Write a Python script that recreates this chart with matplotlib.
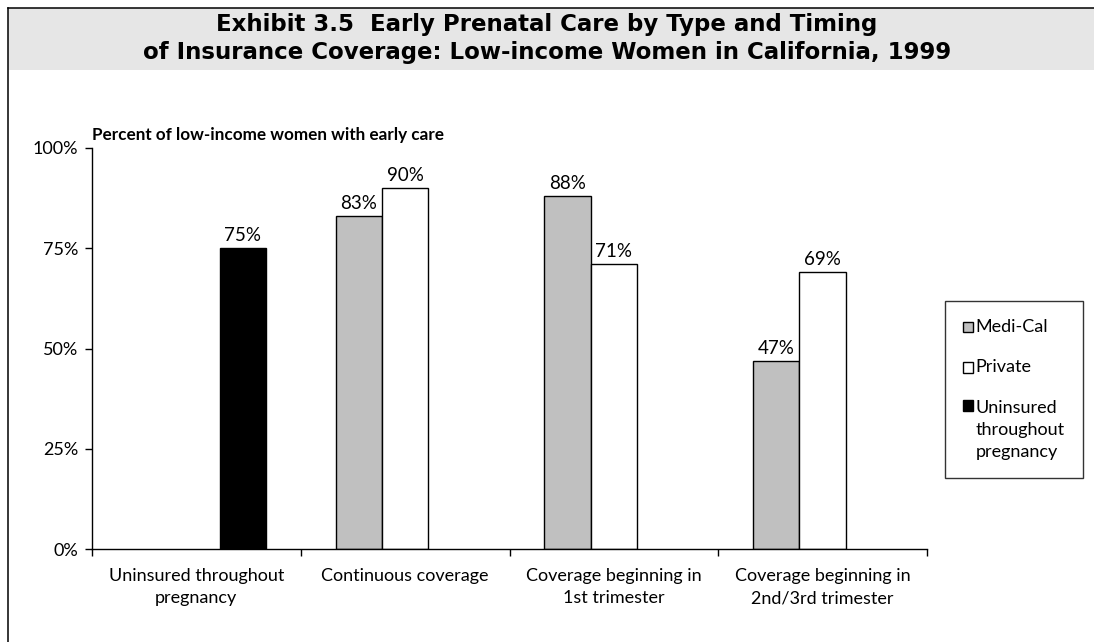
import numpy as np
import matplotlib
matplotlib.use("Agg")
import matplotlib.pyplot as plt
from matplotlib.patches import Rectangle
from matplotlib.lines import Line2D

plt.rcParams['font.family'] = ['Lato', 'DejaVu Sans']

# Percent of low-income women with early prenatal care
categories = ["Uninsured throughout\npregnancy", "Continuous coverage",
              "Coverage beginning in\n1st trimester", "Coverage beginning in\n2nd/3rd trimester"]
medi_cal = [np.nan, 83, 88, 47]
private = [np.nan, 90, 71, 69]
uninsured = [75, np.nan, np.nan, np.nan]
series_names = ["Medi-Cal", "Private", "Uninsured\nthroughout\npregnancy"]
yticks = [0, 25, 50, 75, 100]

fig = plt.figure(figsize=(10.94, 6.42), dpi=100)

# frame and shaded title band
fig.patches.append(Rectangle((8 / 1094, 1 - 70 / 642), 1, 62 / 642, transform=fig.transFigure,
                             facecolor="#e6e6e6", edgecolor="none", zorder=0))
fig.lines.append(Line2D([8 / 1094, 1], [1 - 8 / 642] * 2, transform=fig.transFigure, color="black", lw=1.1))
fig.lines.append(Line2D([8 / 1094] * 2, [0, 1 - 8 / 642], transform=fig.transFigure, color="black", lw=1.1))
title_font = dict(ha="center", va="center", fontsize=16.5, fontweight="bold",
                  family=["Liberation Sans Narrow", "DejaVu Sans"])
fig.text(0.5, 1 - 24 / 642, "Exhibit 3.5  Early Prenatal Care by Type and Timing", **title_font)
fig.text(0.5, 1 - 52 / 642, "of Insurance Coverage: Low-income Women in California, 1999", **title_font)

ax = fig.add_axes([92 / 1094, 1 - 549 / 642, (927 - 92) / 1094, (549 - 148) / 642])

x = np.arange(len(categories))
w = 1 / 4.5
b1 = ax.bar(x - w, medi_cal, w, color="#c0c0c0", edgecolor="black", lw=1.0, label=series_names[0])
b2 = ax.bar(x, private, w, color="white", edgecolor="black", lw=1.0, label=series_names[1])
b3 = ax.bar(x + w, uninsured, w, color="black", edgecolor="black", lw=1.0, label=series_names[2])

for bars, vals in [(b1, medi_cal), (b2, private), (b3, uninsured)]:
    for rect, v in zip(bars, vals):
        if np.isnan(v):
            continue
        ax.text(rect.get_x() + rect.get_width() / 2, v + 1.0, "%d%%" % v,
                ha="center", va="bottom", fontsize=13.5)

ax.set_xlim(-0.5, 3.5)
ax.set_ylim(0, 100)
ax.set_yticks(yticks)
ax.set_yticklabels(["%d%%" % t for t in yticks], fontsize=13)
ax.set_xticks(x)
ax.set_xticklabels(categories, fontsize=13, linespacing=1.45)
ax.set_xticks(np.arange(-0.5, 4, 1), minor=True)
ax.tick_params(axis="x", which="major", length=0, pad=14)
ax.tick_params(axis="x", which="minor", length=5, width=1, direction="out")
ax.tick_params(axis="y", length=5, width=1, direction="out", pad=5)
for s in ["top", "right"]:
    ax.spines[s].set_visible(False)
for s in ["left", "bottom"]:
    ax.spines[s].set_linewidth(1.0)

ax.text(0.0, 1.033, "Percent of low-income women with early care", transform=ax.transAxes,
        ha="left", va="center", fontsize=12.3, fontweight="bold")

leg = ax.legend(loc="upper left", bbox_to_anchor=(945 / 1094, 1 - 301 / 642),
                bbox_transform=fig.transFigure, frameon=True, fancybox=False,
                edgecolor="black", fontsize=13, handlelength=0.55, handleheight=0.55,
                handletextpad=0.15, labelspacing=1.35, borderpad=1.0, borderaxespad=0)
leg.get_frame().set_linewidth(1.0)
# keep each square level with the first line of its label
for col in leg._legend_handle_box.get_children():
    for row in col.get_children():
        row.align = "center" if "\n" not in row.get_children()[1]._text.get_text() else "top"
for t in leg.get_texts():
    t.set_linespacing(1.45)

fig.savefig("out.png", dpi=100)
